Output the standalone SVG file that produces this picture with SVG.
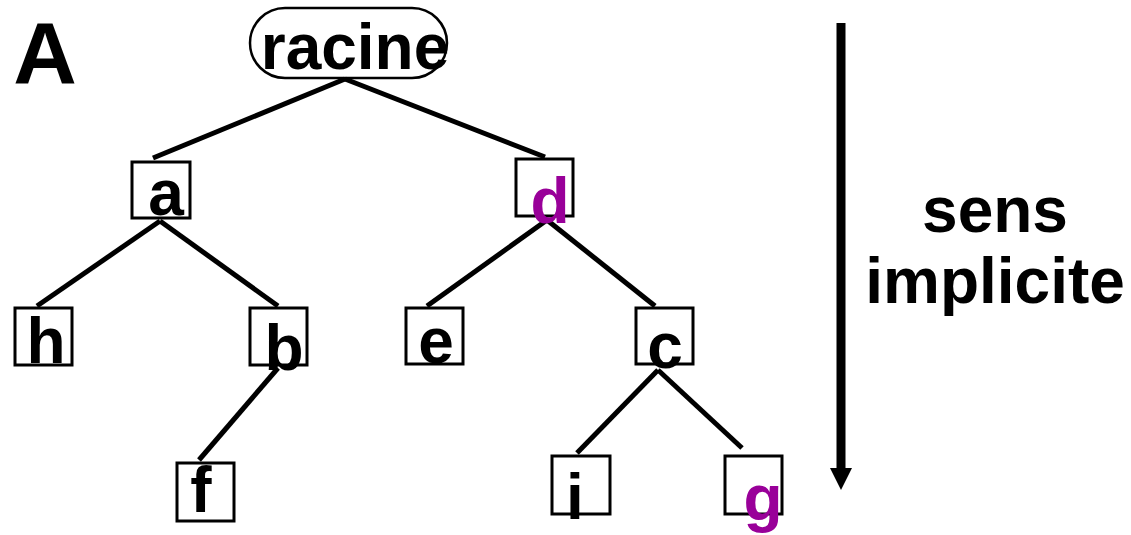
<svg xmlns="http://www.w3.org/2000/svg" width="1131" height="535" viewBox="0 0 1131 535">
  <style>
    .box { fill: none; stroke: #000; stroke-width: 3; }
    .lbl { font-family: "Liberation Sans", Arial, sans-serif; font-weight: bold; font-size: 64px; text-anchor: middle; fill: #000; }
    .hl { fill: #990099; }
    .edge { stroke: #000; stroke-width: 5; fill: none; }
  </style>
  <defs>
    <marker id="head" markerWidth="24" markerHeight="22" refX="0" refY="11" orient="auto" markerUnits="userSpaceOnUse">
      <path d="M0,0 L22,11 L0,22 Z" fill="#000"/>
    </marker>
  </defs>
  <rect width="1131" height="535" fill="#fff"/>

  <text x="45" y="83" class="lbl" style="font-size:88px">A</text>

  <g id="connectors">
    <line class="edge" x1="345" y1="79" x2="153" y2="158"/>
    <line class="edge" x1="345" y1="79" x2="545" y2="157"/>
    <line class="edge" x1="160" y1="221" x2="37" y2="306"/>
    <line class="edge" x1="160" y1="221" x2="278" y2="306"/>
    <line class="edge" x1="547" y1="220" x2="427" y2="306"/>
    <line class="edge" x1="547" y1="220" x2="655" y2="306"/>
    <line class="edge" x1="278" y1="368" x2="199" y2="460"/>
    <line class="edge" x1="658" y1="370" x2="577" y2="453"/>
    <line class="edge" x1="658" y1="370" x2="742" y2="448"/>
  </g>

  <g id="racine">
    <rect x="250" y="8" width="197" height="70" rx="35" ry="35" class="box" style="stroke-width:2.5"/>
    <text x="355" y="69" class="lbl">racine</text>
  </g>
  <g id="node-a">
    <rect x="132" y="162" width="58" height="56" class="box"/>
    <text x="166" y="215" class="lbl">a</text>
  </g>
  <g id="node-d">
    <rect x="516" y="159" width="57" height="57" class="box"/>
    <text x="550" y="223" class="lbl hl">d</text>
  </g>
  <g id="node-h">
    <rect x="15" y="308" width="57" height="57" class="box"/>
    <text x="46" y="363" class="lbl">h</text>
  </g>
  <g id="node-b">
    <rect x="250" y="308" width="57" height="57" class="box"/>
    <text x="284" y="370" class="lbl">b</text>
  </g>
  <g id="node-e">
    <rect x="406" y="308" width="57" height="56" class="box"/>
    <text x="436" y="363" class="lbl">e</text>
  </g>
  <g id="node-c">
    <rect x="636" y="308" width="57" height="56" class="box"/>
    <text x="665" y="368" class="lbl">c</text>
  </g>
  <g id="node-f">
    <rect x="177" y="463" width="57" height="58" class="box"/>
    <text x="201" y="512" class="lbl">f</text>
  </g>
  <g id="node-i">
    <rect x="552" y="456" width="58" height="58" class="box"/>
    <text x="575" y="519" class="lbl">i</text>
  </g>
  <g id="node-g">
    <rect x="725" y="456" width="57" height="58" class="box"/>
    <text x="763" y="520" class="lbl hl">g</text>
  </g>

  <g id="direction">
    <line x1="841" y1="23" x2="841" y2="468" stroke="#000" stroke-width="9" marker-end="url(#head)"/>
    <text x="995" y="232" class="lbl">sens</text>
    <text x="995" y="303" class="lbl">implicite</text>
  </g>
</svg>
